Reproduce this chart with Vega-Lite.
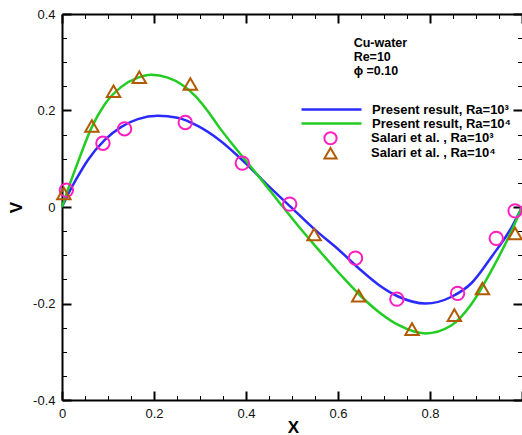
{
  "$schema": "https://vega.github.io/schema/vega-lite/v6.json",
  "width": 460,
  "height": 386,
  "autosize": {"type": "none"},
  "padding": {"left": 62, "top": 14, "right": 0, "bottom": 35},
  "background": "white",
  "config": {
    "view": {"stroke": null},
    "axis": {
      "grid": false,
      "domainColor": "black",
      "domainWidth": 2,
      "tickColor": "black",
      "labelFont": "Liberation Sans",
      "labelFontSize": 13,
      "labelColor": "#111111",
      "titleFont": "Liberation Sans",
      "titleFontWeight": "bold",
      "titleColor": "black",
      "titleFontSize": 17
    }
  },
  "datasets": {
    "lines": [
      {"s": "Present result, Ra=10³", "x": 0, "v": 0},
      {"s": "Present result, Ra=10³", "x": 0.014, "v": 0.028},
      {"s": "Present result, Ra=10³", "x": 0.03, "v": 0.056},
      {"s": "Present result, Ra=10³", "x": 0.056, "v": 0.097},
      {"s": "Present result, Ra=10³", "x": 0.093, "v": 0.139},
      {"s": "Present result, Ra=10³", "x": 0.129, "v": 0.166},
      {"s": "Present result, Ra=10³", "x": 0.165, "v": 0.182},
      {"s": "Present result, Ra=10³", "x": 0.208, "v": 0.189},
      {"s": "Present result, Ra=10³", "x": 0.251, "v": 0.185},
      {"s": "Present result, Ra=10³", "x": 0.297, "v": 0.167},
      {"s": "Present result, Ra=10³", "x": 0.342, "v": 0.139},
      {"s": "Present result, Ra=10³", "x": 0.4, "v": 0.09},
      {"s": "Present result, Ra=10³", "x": 0.443, "v": 0.049},
      {"s": "Present result, Ra=10³", "x": 0.493, "v": 0.004},
      {"s": "Present result, Ra=10³", "x": 0.551, "v": -0.048},
      {"s": "Present result, Ra=10³", "x": 0.602, "v": -0.089},
      {"s": "Present result, Ra=10³", "x": 0.645, "v": -0.127},
      {"s": "Present result, Ra=10³", "x": 0.688, "v": -0.161},
      {"s": "Present result, Ra=10³", "x": 0.732, "v": -0.186},
      {"s": "Present result, Ra=10³", "x": 0.79, "v": -0.2},
      {"s": "Present result, Ra=10³", "x": 0.847, "v": -0.186},
      {"s": "Present result, Ra=10³", "x": 0.891, "v": -0.157},
      {"s": "Present result, Ra=10³", "x": 0.934, "v": -0.103},
      {"s": "Present result, Ra=10³", "x": 0.978, "v": -0.041},
      {"s": "Present result, Ra=10³", "x": 1, "v": 0},
      {"s": "Present result, Ra=10⁴", "x": 0, "v": 0},
      {"s": "Present result, Ra=10⁴", "x": 0.015, "v": 0.042},
      {"s": "Present result, Ra=10⁴", "x": 0.035, "v": 0.094},
      {"s": "Present result, Ra=10⁴", "x": 0.064, "v": 0.164},
      {"s": "Present result, Ra=10⁴", "x": 0.093, "v": 0.213},
      {"s": "Present result, Ra=10⁴", "x": 0.129, "v": 0.249},
      {"s": "Present result, Ra=10⁴", "x": 0.165, "v": 0.268},
      {"s": "Present result, Ra=10⁴", "x": 0.194, "v": 0.274},
      {"s": "Present result, Ra=10⁴", "x": 0.23, "v": 0.268},
      {"s": "Present result, Ra=10⁴", "x": 0.26, "v": 0.254},
      {"s": "Present result, Ra=10⁴", "x": 0.29, "v": 0.23},
      {"s": "Present result, Ra=10⁴", "x": 0.32, "v": 0.195},
      {"s": "Present result, Ra=10⁴", "x": 0.342, "v": 0.165},
      {"s": "Present result, Ra=10⁴", "x": 0.385, "v": 0.113},
      {"s": "Present result, Ra=10⁴", "x": 0.428, "v": 0.063},
      {"s": "Present result, Ra=10⁴", "x": 0.472, "v": 0.01},
      {"s": "Present result, Ra=10⁴", "x": 0.515, "v": -0.041},
      {"s": "Present result, Ra=10⁴", "x": 0.559, "v": -0.09},
      {"s": "Present result, Ra=10⁴", "x": 0.609, "v": -0.144},
      {"s": "Present result, Ra=10⁴", "x": 0.65, "v": -0.185},
      {"s": "Present result, Ra=10⁴", "x": 0.688, "v": -0.217},
      {"s": "Present result, Ra=10⁴", "x": 0.732, "v": -0.245},
      {"s": "Present result, Ra=10⁴", "x": 0.79, "v": -0.262},
      {"s": "Present result, Ra=10⁴", "x": 0.847, "v": -0.245},
      {"s": "Present result, Ra=10⁴", "x": 0.891, "v": -0.2},
      {"s": "Present result, Ra=10⁴", "x": 0.934, "v": -0.131},
      {"s": "Present result, Ra=10⁴", "x": 0.978, "v": -0.048},
      {"s": "Present result, Ra=10⁴", "x": 1, "v": 0}
    ],
    "pts": [
      {"m": "Salari et al. , Ra=10³", "x": 0.0095, "v": 0.035},
      {"m": "Salari et al. , Ra=10³", "x": 0.089, "v": 0.132},
      {"m": "Salari et al. , Ra=10³", "x": 0.136, "v": 0.162},
      {"m": "Salari et al. , Ra=10³", "x": 0.268, "v": 0.175},
      {"m": "Salari et al. , Ra=10³", "x": 0.392, "v": 0.091},
      {"m": "Salari et al. , Ra=10³", "x": 0.495, "v": 0.006},
      {"m": "Salari et al. , Ra=10³", "x": 0.638, "v": -0.106},
      {"m": "Salari et al. , Ra=10³", "x": 0.728, "v": -0.191},
      {"m": "Salari et al. , Ra=10³", "x": 0.86, "v": -0.179},
      {"m": "Salari et al. , Ra=10³", "x": 0.944, "v": -0.065},
      {"m": "Salari et al. , Ra=10³", "x": 0.985, "v": -0.008},
      {"m": "Salari et al. , Ra=10⁴", "x": 0.004, "v": 0.028},
      {"m": "Salari et al. , Ra=10⁴", "x": 0.065, "v": 0.168},
      {"m": "Salari et al. , Ra=10⁴", "x": 0.112, "v": 0.24},
      {"m": "Salari et al. , Ra=10⁴", "x": 0.168, "v": 0.269},
      {"m": "Salari et al. , Ra=10⁴", "x": 0.279, "v": 0.255},
      {"m": "Salari et al. , Ra=10⁴", "x": 0.548, "v": -0.057},
      {"m": "Salari et al. , Ra=10⁴", "x": 0.645, "v": -0.184},
      {"m": "Salari et al. , Ra=10⁴", "x": 0.761, "v": -0.253},
      {"m": "Salari et al. , Ra=10⁴", "x": 0.853, "v": -0.224},
      {"m": "Salari et al. , Ra=10⁴", "x": 0.914, "v": -0.169},
      {"m": "Salari et al. , Ra=10⁴", "x": 0.985, "v": -0.055}
    ],
    "ann": [
      {"t": "Cu-water", "x": 0.634, "v": 0.339},
      {"t": "Re=10", "x": 0.634, "v": 0.311},
      {"t": "ϕ =0.10", "x": 0.634, "v": 0.282}
    ]
  },
  "layer": [
    {
      "data": {"name": "lines"},
      "mark": {"type": "line", "interpolate": "monotone", "strokeWidth": 2.5},
      "encoding": {
        "x": {
          "field": "x", "type": "quantitative",
          "scale": {"domain": [0, 1], "nice": false, "zero": false},
          "axis": {
            "orient": "bottom",
            "values": [0, 0.05, 0.1, 0.15, 0.2, 0.25, 0.3, 0.35, 0.4, 0.45, 0.5, 0.55, 0.6, 0.65, 0.7, 0.75, 0.8, 0.85, 0.9, 0.95, 1],
            "tickSize": {"condition": {"test": "abs(datum.value*5-round(datum.value*5))<0.001", "value": -9}, "value": -4.5},
            "tickWidth": {"condition": {"test": "abs(datum.value*5-round(datum.value*5))<0.001", "value": 2}, "value": 1},
            "labelExpr": "(abs(datum.value*5-round(datum.value*5))<0.001 && datum.value<0.99) ? replace(format(datum.value,'.1~f'),'−','-') : ''",
            "labelPadding": 16.5,
            "labelFlush": false,
            "labelOverlap": false,
            "title": "X",
            "titleX": 231,
            "titleY": 27,
            "titleBaseline": "middle"
          }
        },
        "y": {
          "field": "v", "type": "quantitative",
          "scale": {"domain": [-0.4, 0.4], "nice": false, "zero": false},
          "axis": {
            "orient": "left",
            "values": [-0.4, -0.35, -0.3, -0.25, -0.2, -0.15, -0.1, -0.05, 0, 0.05, 0.1, 0.15, 0.2, 0.25, 0.3, 0.35, 0.4],
            "tickSize": {"condition": {"test": "abs(datum.value*5-round(datum.value*5))<0.001", "value": -9}, "value": -4.5},
            "tickWidth": {"condition": {"test": "abs(datum.value*5-round(datum.value*5))<0.001", "value": 2}, "value": 1},
            "labelExpr": "abs(datum.value*5-round(datum.value*5))<0.001 ? replace(format(datum.value,'.1~f'),'−','-') : ''",
            "labelPadding": 16,
            "labelFlush": false,
            "labelOverlap": false,
            "title": "V",
            "titleX": -46,
            "titleY": 193,
            "titleAlign": "center",
            "titleBaseline": "middle"
          }
        },
        "stroke": {
          "field": "s", "type": "nominal",
          "scale": {"domain": ["Present result, Ra=10³", "Present result, Ra=10⁴"], "range": ["#2a2aff", "#22cc22"]},
          "legend": {
            "orient": "none", "legendX": 263, "legendY": 89, "title": null,
            "symbolType": "M-6,0H6", "symbolSize": 100, "symbolStrokeWidth": 2.5,
            "labelFont": "Liberation Sans", "labelFontSize": 13, "labelFontWeight": "bold",
            "labelColor": "black", "labelOffset": 34, "labelLimit": 0, "rowPadding": 0, "padding": 0
          }
        }
      }
    },
    {
      "data": {"name": "pts"},
      "mark": {"type": "point", "filled": false, "strokeWidth": 2, "size": 180, "opacity": 1},
      "encoding": {
        "x": {
          "field": "x", "type": "quantitative",
          "scale": {"domain": [0, 1], "nice": false, "zero": false},
          "axis": {
            "orient": "top",
            "values": [0, 0.05, 0.1, 0.15, 0.2, 0.25, 0.3, 0.35, 0.4, 0.45, 0.5, 0.55, 0.6, 0.65, 0.7, 0.75, 0.8, 0.85, 0.9, 0.95, 1],
            "tickSize": {"condition": {"test": "abs(datum.value*5-round(datum.value*5))<0.001", "value": -9}, "value": -4.5},
            "tickWidth": {"condition": {"test": "abs(datum.value*5-round(datum.value*5))<0.001", "value": 2}, "value": 1},
            "labels": false,
            "title": null
          }
        },
        "y": {
          "field": "v", "type": "quantitative",
          "scale": {"domain": [-0.4, 0.4], "nice": false, "zero": false},
          "axis": {
            "orient": "right",
            "domain": false,
            "values": [-0.4, -0.35, -0.3, -0.25, -0.2, -0.15, -0.1, -0.05, 0, 0.05, 0.1, 0.15, 0.2, 0.25, 0.3, 0.35, 0.4],
            "tickSize": {"condition": {"test": "abs(datum.value*5-round(datum.value*5))<0.001", "value": -9}, "value": -4.5},
            "tickWidth": {"condition": {"test": "abs(datum.value*5-round(datum.value*5))<0.001", "value": 2}, "value": 1},
            "labels": false,
            "title": null
          }
        },
        "color": {
          "field": "m", "type": "nominal",
          "scale": {"domain": ["Salari et al. , Ra=10³", "Salari et al. , Ra=10⁴"], "range": ["#ff1fc0", "#b35900"]},
          "legend": {
            "orient": "none", "legendX": 261, "legendY": 117, "title": null,
            "symbolSize": 150, "symbolStrokeWidth": 2, "clipHeight": 14.5,
            "labelFont": "Liberation Sans", "labelFontSize": 13, "labelFontWeight": "bold",
            "labelColor": "black", "labelOffset": 33, "labelLimit": 0, "rowPadding": 0, "padding": 0,
            "encode": {"symbols": {"update": {"shape": {"signal": "datum.value === 'Salari et al. , Ra=10⁴' ? 'triangle-up' : 'circle'"}}}}
          }
        },
        "shape": {
          "field": "m", "type": "nominal",
          "scale": {"domain": ["Salari et al. , Ra=10³", "Salari et al. , Ra=10⁴"], "range": ["circle", "triangle-up"]},
          "legend": null
        }
      }
    },
    {
      "data": {"name": "ann"},
      "mark": {"type": "text", "align": "left", "baseline": "middle", "font": "Liberation Sans", "fontWeight": "bold", "fontSize": 12.5, "color": "black"},
      "encoding": {
        "x": {"field": "x", "type": "quantitative", "scale": {"domain": [0, 1], "nice": false, "zero": false}, "axis": null},
        "y": {"field": "v", "type": "quantitative", "scale": {"domain": [-0.4, 0.4], "nice": false, "zero": false}, "axis": null},
        "text": {"field": "t", "type": "nominal"}
      }
    }
  ],
  "resolve": {
    "scale": {"x": "independent", "y": "independent"},
    "axis": {"x": "independent", "y": "independent"}
  }
}
